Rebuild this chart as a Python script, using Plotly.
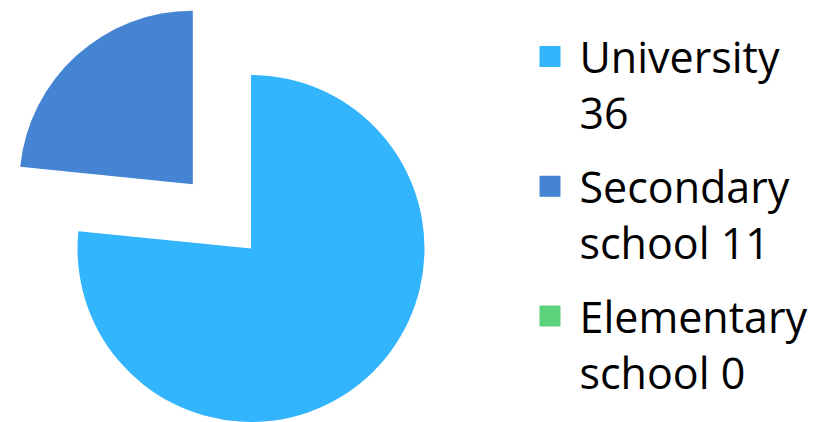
import math
import plotly.graph_objects as go

# ---- data ----
labels = ["University", "Secondary school", "Elementary school"]
legend_labels = ["University<br>36", "Secondary<br>school 11", "Elementary<br>school 0"]
values = [36, 11, 0]
colors = ["#33B5FE", "#4484D3", "#5CD27A"]
exploded = "Secondary school"
pull = 0.5

# the page body has an 8px default margin, so the figure is sized to fit the window
OFF = 8
W, H = 819 - OFF, 422 - OFF
R = 173.5                                  # pie radius in px
CX, CY = 251 - OFF, 248.5 - OFF            # pie centre in px (figure coords, from top-left)

def domain(cx, cy, r):
    return dict(x=[max(0, (cx - r) / W), min(1, (cx + r) / W)],
                y=[max(0, (H - (cy + r)) / H), min(1, (H - (cy - r)) / H)])

# offset of exploded slice computed from its mid-angle (clockwise from 12 o'clock)
total = sum(values)
idx = labels.index(exploded)
mid = (sum(values[:idx]) + values[idx] / 2) / total * 2 * math.pi
dx = pull * R * math.sin(mid)
dy = -pull * R * math.cos(mid)

transparent = "rgba(0,0,0,0)"
base_colors = [transparent if l == exploded else c for l, c in zip(labels, colors)]
pulled_colors = [c if l == exploded else transparent for l, c in zip(labels, colors)]

fig = go.Figure()
fig.add_trace(go.Pie(labels=labels, values=values, sort=False, direction="clockwise",
                     rotation=0, marker=dict(colors=base_colors, line=dict(width=0)),
                     textinfo="none", showlegend=False, hoverinfo="label+value",
                     domain=domain(CX, CY, R)))
fig.add_trace(go.Pie(labels=labels, values=values, sort=False, direction="clockwise",
                     rotation=0, marker=dict(colors=pulled_colors, line=dict(width=0)),
                     textinfo="none", showlegend=False, hoverinfo="label+value",
                     domain=domain(CX + dx, CY + dy, R)))

# legend entries
for i, (lab, col) in enumerate(zip(legend_labels, colors)):
    fig.add_trace(go.Scatter(x=[None], y=[None], mode="markers", name=lab,
                             legendgroup=str(i), hoverinfo="skip",
                             marker=dict(symbol="square", size=16, color=col,
                                         line=dict(width=5, color=col))))

fig.update_layout(
    width=W, height=H,
    margin=dict(l=0, r=0, t=0, b=0),
    paper_bgcolor="white", plot_bgcolor="white",
    xaxis=dict(visible=False), yaxis=dict(visible=False),
    font=dict(family="Open Sans", color="black"),
    legend=dict(x=512.5 / W, xanchor="left", y=1 - 14 / H, yanchor="top",
                font=dict(size=43, family="Open Sans", color="black"),
                itemwidth=49, tracegroupgap=15, valign="top",
                bgcolor="rgba(0,0,0,0)"),
)

fig.write_html("out.html")
